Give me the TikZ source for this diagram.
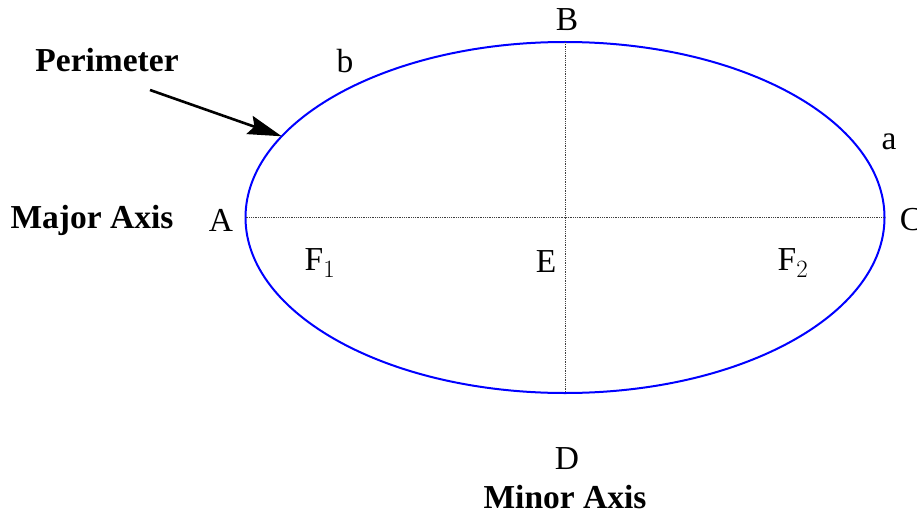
\documentclass[tikz,border=0pt]{standalone}
\usepackage{fontspec}
\setmainfont{Liberation Serif}
\usetikzlibrary{arrows.meta,shapes.geometric}
\tikzset{
  lbl/.style={inner sep=0pt, font=\fontsize{33.5}{38}\selectfont},
  blbl/.style={inner sep=0pt, font=\fontsize{33.5}{38}\selectfont\bfseries},
  axisline/.style={densely dotted, line width=0.8pt, black!75},
  curve/.style={draw=blue, line width=2pt, ellipse, inner sep=0pt, outer sep=0pt},
  pointer/.style={line width=2.6pt, -{Stealth[length=34pt, width=19pt, inset=5pt]}}
}
\begin{document}
\begin{tikzpicture}[x=1pt, y=-1pt]
\useasboundingbox (0,0) rectangle (917,516);
\node[curve, minimum width=639pt, minimum height=351pt] (el) at (565,217.5) {};
\draw[axisline] (el.west) -- (el.east);
\draw[axisline] (el.north) -- (el.south);
\node[blbl] (per) at (107,60) {Perimeter};
\coordinate (ptail) at (150,90);
\draw[pointer] (ptail) -- (el.164.5);
\node[lbl] (b) at (345,61) {b};
\node[lbl] (B) at (567,20) {B};
\node[lbl] (a) at (889,142) {a};
\node[blbl] (maj) at (92,220) {Major Axis};
\node[lbl] (A) at (221,220) {A};
\node[lbl] (C) at (911,220) {C};
\node[lbl] (F1) at (320,263) {F$_1$};
\node[lbl] (E) at (546,262) {E};
\node[lbl] (F2) at (793,263) {F$_2$};
\node[lbl] (D) at (567,459) {D};
\node[blbl] (min) at (565,497) {Minor Axis};
\end{tikzpicture}
\end{document}
